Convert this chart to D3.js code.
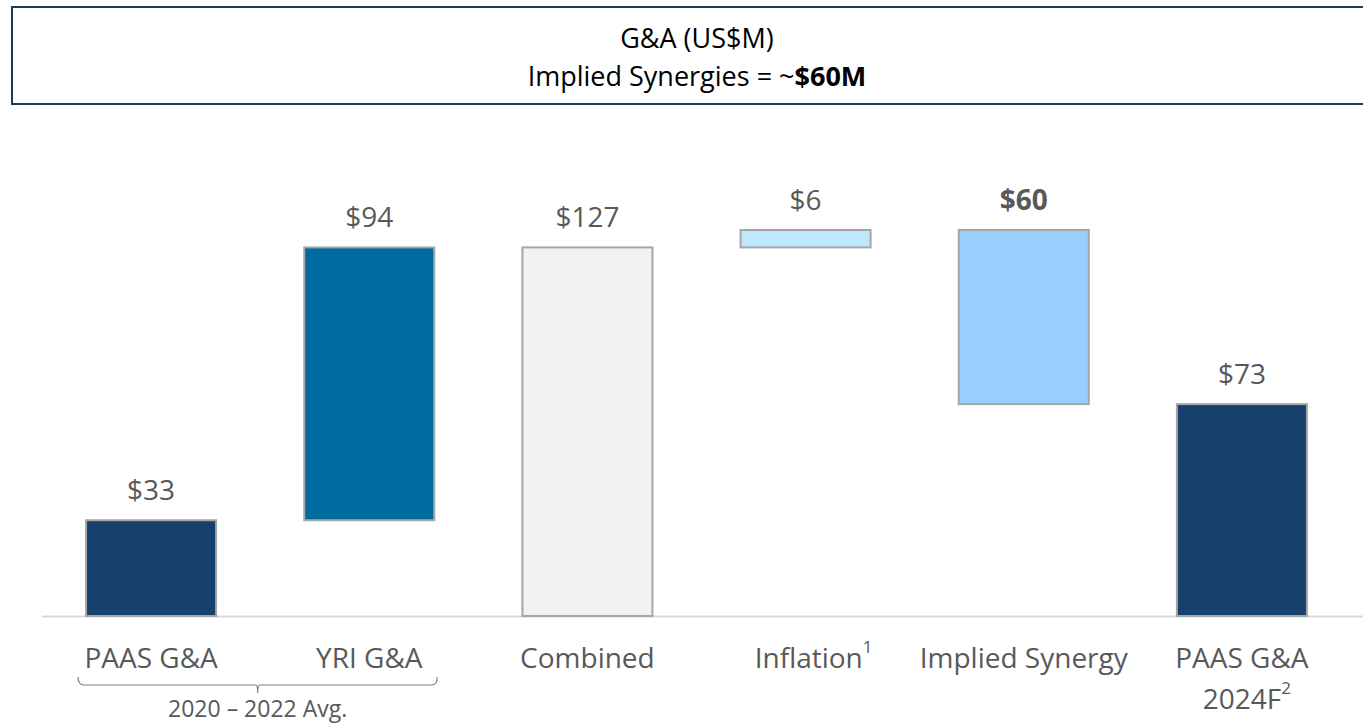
<!DOCTYPE html>
<html>
<head>
<meta charset="utf-8">
<script src="https://cdn.jsdelivr.net/npm/d3@7"></script>
<style>
  body { margin: 0; background: #fff; }
  svg { display: block; font-family: "Open Sans", sans-serif; }
</style>
</head>
<body>
<svg id="chart" width="1363" height="724"></svg>
<script>
// chart data
const categories = ["PAAS G&A", "YRI G&A", "Combined", "Inflation", "Implied Synergy", "PAAS G&A 2024F"];
const values = [33, 94, 127, 6, -60, 73];
const kinds = ["total", "delta", "total", "delta", "delta", "total"];
const fills = ["#17406D", "#006B9F", "#F2F2F2", "#BDE8FF", "#99CFFF", "#17406D"];
const boldLabel = [false, false, false, false, true, false];

const svg = d3.select("#chart");
const width = 1363;
const baseY = 616;

// waterfall steps
let running = 0;
const steps = categories.map(function(c, i) {
  let lo, hi;
  if (kinds[i] === "total") {
    lo = 0; hi = values[i]; running = values[i];
  } else {
    const next = running + values[i];
    lo = Math.min(running, next); hi = Math.max(running, next);
    running = next;
  }
  return { cat: c, lo: lo, hi: hi, v: values[i], fill: fills[i], bold: boldLabel[i] };
});

const x = d3.scaleBand()
  .domain(categories)
  .range([42, 1351])
  .paddingInner(0.404)
  .paddingOuter(0.202);

const y = d3.scaleLinear()
  .domain([0, 133])
  .range([baseY, 230]);

// title box
svg.append("rect")
  .attr("x", 12).attr("y", 7)
  .attr("width", 1370).attr("height", 97)
  .attr("fill", "#fff")
  .attr("stroke", "#1F3B5C")
  .attr("stroke-width", 2);

const title = svg.append("text")
  .attr("text-anchor", "middle")
  .attr("fill", "#000")
  .attr("font-size", 27);
title.append("tspan").attr("x", 697).attr("y", 48).text("G&A (US$M)");
const t2 = title.append("tspan").attr("x", 697).attr("y", 86);
t2.append("tspan").text("Implied Synergies = ~");
t2.append("tspan").attr("font-weight", "bold").text("$60M");

// baseline
svg.append("line")
  .attr("x1", 42).attr("x2", width)
  .attr("y1", baseY + 0.5).attr("y2", baseY + 0.5)
  .attr("stroke", "#D9D9D9")
  .attr("stroke-width", 2);

// bars
svg.append("g").selectAll("rect")
  .data(steps)
  .join("rect")
  .attr("x", d => x(d.cat))
  .attr("y", d => y(d.hi))
  .attr("width", x.bandwidth())
  .attr("height", d => y(d.lo) - y(d.hi))
  .attr("fill", d => d.fill)
  .attr("stroke", "#A6A6A6")
  .attr("stroke-width", 2);

// value labels
svg.append("g").selectAll("text")
  .data(steps)
  .join("text")
  .attr("x", d => x(d.cat) + x.bandwidth() / 2)
  .attr("y", d => y(d.hi) - 20)
  .attr("text-anchor", "middle")
  .attr("font-size", 28)
  .attr("font-weight", d => d.bold ? "bold" : "normal")
  .attr("fill", "#595959")
  .text(d => "$" + Math.abs(d.v));

// category labels
const catG = svg.append("g")
  .attr("fill", "#595959")
  .attr("font-size", 28)
  .attr("text-anchor", "middle");

const cx = c => x(c) + x.bandwidth() / 2;

catG.append("text").attr("x", cx(categories[0])).attr("y", 668).text("PAAS G&A");
catG.append("text").attr("x", cx(categories[1])).attr("y", 668).text("YRI G&A");
catG.append("text").attr("x", cx(categories[2])).attr("y", 668).text("Combined");
const inf = catG.append("text").attr("x", cx(categories[3]) + 8).attr("y", 668);
inf.append("tspan").text("Inflation");
inf.append("tspan").attr("font-size", 17).attr("dy", -15).text("1");
catG.append("text").attr("x", cx(categories[4])).attr("y", 668).text("Implied Synergy");
catG.append("text").attr("x", cx(categories[5])).attr("y", 668).text("PAAS G&A");
const fc = catG.append("text").attr("x", cx(categories[5]) + 5).attr("y", 709);
fc.append("tspan").text("2024F");
fc.append("tspan").attr("font-size", 17).attr("dy", -15).text("2");

// bracket under first two categories
const bx0 = x(categories[0]) - 8;
const bx1 = x(categories[1]) + x.bandwidth() + 3;
const bmid = (bx0 + bx1) / 2;
svg.append("path")
  .attr("d", `M${bx0},677 Q${bx0},685 ${bx0 + 6},685 L${bmid - 2},685 Q${bmid},685 ${bmid},693 Q${bmid},685 ${bmid + 2},685 L${bx1 - 6},685 Q${bx1},685 ${bx1},677`)
  .attr("fill", "none")
  .attr("stroke", "#7F7F7F")
  .attr("stroke-width", 1.2);

svg.append("text")
  .attr("x", bmid)
  .attr("y", 717)
  .attr("text-anchor", "middle")
  .attr("font-size", 23)
  .attr("fill", "#595959")
  .text("2020 – 2022 Avg.");
</script>
</body>
</html>
